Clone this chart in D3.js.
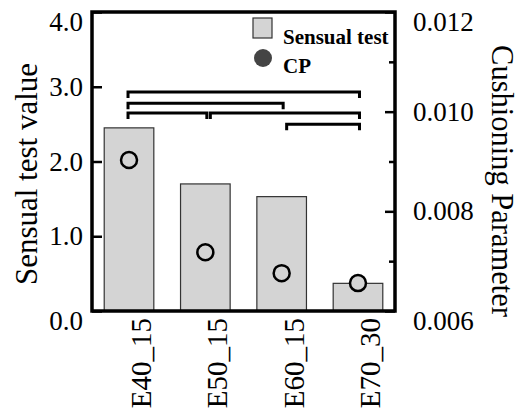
<!DOCTYPE html>
<html>
<head>
<meta charset="utf-8">
<script src="https://cdn.jsdelivr.net/npm/d3@7"></script>
<style>
  body { margin: 0; background: #fff; }
  text { font-family: "Liberation Serif", "Times New Roman", serif; }
</style>
</head>
<body>
<script>
// chart data
const categories = ['E40_15', 'E50_15', 'E60_15', 'E70_30'];
const sensualTest = [2.45, 1.70, 1.53, 0.37];
const cpValues = [0.00903, 0.00718, 0.00676, 0.00656];
const leftTicks = [0, 1, 2, 3, 4];
const rightTicks = [0.006, 0.008, 0.010, 0.012];
const rightMinor = [0.007, 0.009, 0.011];
// significance brackets: [from, to, level on left axis]
const brackets = [
  ['E40_15', 'E70_30', 2.93],
  ['E40_15', 'E60_15', 2.78],
  ['E40_15', 'E50_15', 2.65],
  ['E50_15', 'E70_30', 2.65],
  ['E60_15', 'E70_30', 2.50]
];

const width = 528, height = 412;
const plot = { left: 92, right: 395, top: 12, bottom: 311 };

const svg = d3.select('body').append('svg')
  .attr('width', width)
  .attr('height', height);

const x = d3.scaleBand()
  .domain(categories)
  .range([plot.left, plot.right])
  .paddingInner(0.35)
  .paddingOuter(0.16);

const yLeft = d3.scaleLinear().domain([0, 4]).range([plot.bottom, plot.top]);
const yRight = d3.scaleLinear().domain([0.006, 0.012]).range([plot.bottom, plot.top]);

// bars
svg.selectAll('rect.bar')
  .data(categories)
  .enter().append('rect')
  .attr('class', 'bar')
  .attr('x', d => x(d))
  .attr('width', x.bandwidth())
  .attr('y', (d, i) => yLeft(sensualTest[i]))
  .attr('height', (d, i) => yLeft(0) - yLeft(sensualTest[i]))
  .attr('fill', '#d4d4d4')
  .attr('stroke', '#333')
  .attr('stroke-width', 1.2);

// left axis, ticks pointing inward
const leftAxis = svg.append('g')
  .attr('transform', `translate(${plot.left},0)`)
  .call(d3.axisLeft(yLeft).tickValues(leftTicks).tickFormat(d3.format('.1f'))
    .tickSizeInner(-10).tickSizeOuter(0).tickPadding(9));

// right axis
const rightAxis = svg.append('g')
  .attr('transform', `translate(${plot.right},0)`)
  .call(d3.axisRight(yRight).tickValues(rightTicks).tickFormat(d3.format('.3f'))
    .tickSizeInner(-10).tickSizeOuter(0).tickPadding(18));

svg.append('g')
  .attr('transform', `translate(${plot.right},0)`)
  .call(d3.axisRight(yRight).tickValues(rightMinor).tickFormat('')
    .tickSizeInner(-6).tickSizeOuter(0))
  .call(g => g.select('.domain').remove())
  .selectAll('line').attr('stroke', '#000').attr('stroke-width', 2.5);

[leftAxis, rightAxis].forEach(g => {
  g.select('.domain').remove();
  g.selectAll('line').attr('stroke', '#000').attr('stroke-width', 2.5);
  g.selectAll('text')
    .attr('font-family', '"Liberation Serif", "Times New Roman", serif')
    .attr('font-size', 27)
    .attr('fill', '#000');
  // end labels sit a bit lower than their ticks, as in the source
  g.selectAll('.tick text')
    .attr('dy', (d, i, n) => (i === 0 || i === n.length - 1) ? '0.7em' : '0.32em');
});

// frame, drawn as a closed path
svg.append('path')
  .attr('d', `M${plot.left},${plot.top}H${plot.right}V${plot.bottom}H${plot.left}Z`)
  .attr('fill', 'none')
  .attr('stroke', '#000')
  .attr('stroke-width', 3.5)
  .attr('stroke-linejoin', 'miter');

// CP points
svg.selectAll('circle.cp')
  .data(categories)
  .enter().append('circle')
  .attr('class', 'cp')
  .attr('cx', d => x(d) + x.bandwidth() / 2)
  .attr('cy', (d, i) => yRight(cpValues[i]))
  .attr('r', 8)
  .attr('fill', '#d4d4d4')
  .attr('stroke', '#000')
  .attr('stroke-width', 2.5);

// significance brackets
const cx = d => x(d) + x.bandwidth() / 2;
svg.selectAll('path.bracket')
  .data(brackets)
  .enter().append('path')
  .attr('class', 'bracket')
  .attr('d', d => {
    const x1 = cx(d[0]) + (d[0] === categories[0] ? -1 : 5);
    const x2 = cx(d[1]) + 1.5;
    const y = yLeft(d[2]);
    return `M${x1},${y + 6}V${y}H${x2}V${y + 6}`;
  })
  .attr('fill', 'none')
  .attr('stroke', '#000')
  .attr('stroke-width', 3);

// x labels
svg.selectAll('text.xlab')
  .data(categories)
  .enter().append('text')
  .attr('class', 'xlab')
  .attr('transform', d => `translate(${cx(d) + 22},${plot.bottom + 7}) rotate(-90)`)
  .attr('text-anchor', 'end')
  .attr('font-size', 29)
  .text(d => d);

// axis titles
svg.append('text')
  .attr('transform', 'translate(37,174) rotate(-90)')
  .attr('text-anchor', 'middle')
  .attr('font-size', 31)
  .text('Sensual test value');

svg.append('text')
  .attr('transform', 'translate(492,181) rotate(90)')
  .attr('text-anchor', 'middle')
  .attr('font-size', 30.5)
  .text('Cushioning Parameter');

// legend
const legend = svg.append('g');
legend.append('rect')
  .attr('x', 253).attr('y', 18).attr('width', 19).attr('height', 20)
  .attr('fill', '#d4d4d4').attr('stroke', '#333').attr('stroke-width', 1.2);
legend.append('text')
  .attr('x', 283).attr('y', 44)
  .attr('font-size', 21).attr('font-weight', 'bold')
  .text('Sensual test');
legend.append('circle')
  .attr('cx', 263).attr('cy', 58).attr('r', 9)
  .attr('fill', '#444');
legend.append('text')
  .attr('x', 283).attr('y', 73)
  .attr('font-size', 21).attr('font-weight', 'bold')
  .text('CP');
</script>
</body>
</html>
